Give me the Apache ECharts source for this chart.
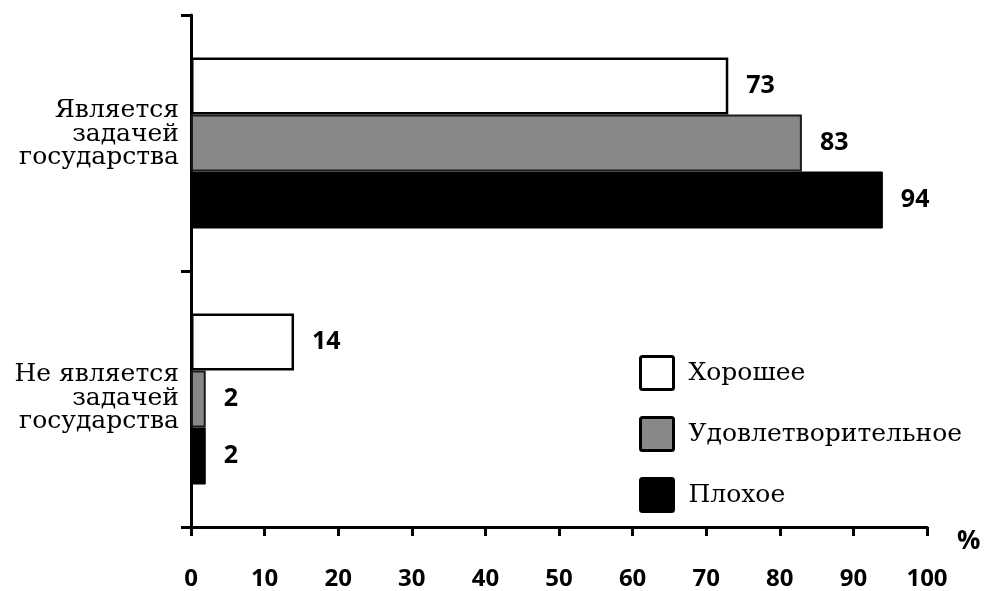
<!DOCTYPE html>
<html>
<head>
<meta charset="utf-8">
<script src="https://cdn.jsdelivr.net/npm/echarts@6/dist/echarts.min.js"></script>
<style>
html,body{margin:0;padding:0;background:#fff;}
#chart{width:988px;height:591px;}
</style>
</head>
<body>
<div id="chart"></div>
<script>
// Categories listed bottom-to-top (ECharts y category axis starts at the bottom)
const categories = ['Не является\nзадачей\nгосударства', 'Является\nзадачей\nгосударства'];
const seriesNames = ['Хорошее', 'Удовлетворительное', 'Плохое'];
const goodValues = [14, 73];
const satisfactoryValues = [2, 83];
const badValues = [2, 94];
const xTicks = [0, 10, 20, 30, 40, 50, 60, 70, 80, 90, 100];

const chart = echarts.init(document.getElementById('chart'));

const labelStyle = {
  show: true,
  position: 'right',
  distance: 18,
  color: '#000',
  fontFamily: 'Open Sans',
  fontWeight: 'bold',
  fontSize: 25
};

const seriesStyles = [
  { color: '#ffffff', borderColor: '#000000', borderWidth: 2.5 },
  { color: '#888888', borderColor: '#1a1a1a', borderWidth: 2 },
  { color: '#000000', borderColor: '#000000', borderWidth: 1 }
];
const values = [goodValues, satisfactoryValues, badValues];

const option = {
  backgroundColor: '#ffffff',
  animation: false,
  grid: { left: 191, right: 61, top: 15, bottom: 61, containLabel: false },
  legend: {
    orient: 'vertical',
    left: 634,
    top: 350,
    itemWidth: 33,
    itemHeight: 33,
    itemGap: 25,
    icon: 'path://M2,0 L31,0 Q33,0 33,2 L33,31 Q33,33 31,33 L2,33 Q0,33 0,31 L0,2 Q0,0 2,0 Z',
    itemStyle: { borderWidth: 3, borderColor: '#000' },
    data: seriesNames,
    textStyle: {
      fontFamily: 'DejaVu Serif',
      fontSize: 25,
      color: '#000',
      padding: [0, 0, 0, 10]
    }
  },
  xAxis: {
    type: 'value',
    min: 0,
    max: 100,
    interval: 10,
    name: '%',
    nameLocation: 'end',
    nameGap: 30,
    nameTextStyle: {
      fontFamily: 'Open Sans',
      fontWeight: 'bold',
      fontSize: 26,
      color: '#000',
      verticalAlign: 'top',
      padding: [2, 0, 0, 0]
    },
    axisLine: { show: true, lineStyle: { color: '#000', width: 3 } },
    axisTick: { show: true, length: 9, lineStyle: { color: '#000', width: 3 } },
    splitLine: { show: false },
    axisLabel: {
      margin: 40,
      color: '#000',
      fontFamily: 'Open Sans',
      fontWeight: 'bold',
      fontSize: 24,
      formatter: function (v) { return xTicks.indexOf(v) >= 0 ? String(v) : ''; }
    }
  },
  yAxis: {
    type: 'category',
    data: categories,
    axisLine: { show: true, onZero: false, lineStyle: { color: '#000', width: 3 } },
    axisTick: { show: true, length: 10, lineStyle: { color: '#000', width: 3 } },
    axisLabel: {
      margin: 12,
      color: '#000',
      fontFamily: 'DejaVu Serif',
      fontSize: 25,
      lineHeight: 23.5,
      align: 'right',
      formatter: function (v, idx) {
        // upper label block sits a little higher in the reference
        return idx === 1 ? v + '\n{gap| }' : v + '\n{gapS| }';
      },
      rich: {
        gap: { fontSize: 1, lineHeight: 18 },
        gapS: { fontSize: 1, lineHeight: 2 }
      }
    }
  },
  series: seriesNames.map(function (name, i) {
    return {
      name: name,
      type: 'bar',
      data: values[i],
      barWidth: 57,
      barGap: '0%',
      itemStyle: seriesStyles[i],
      label: labelStyle
    };
  })
};

chart.setOption(option);
</script>
</body>
</html>
